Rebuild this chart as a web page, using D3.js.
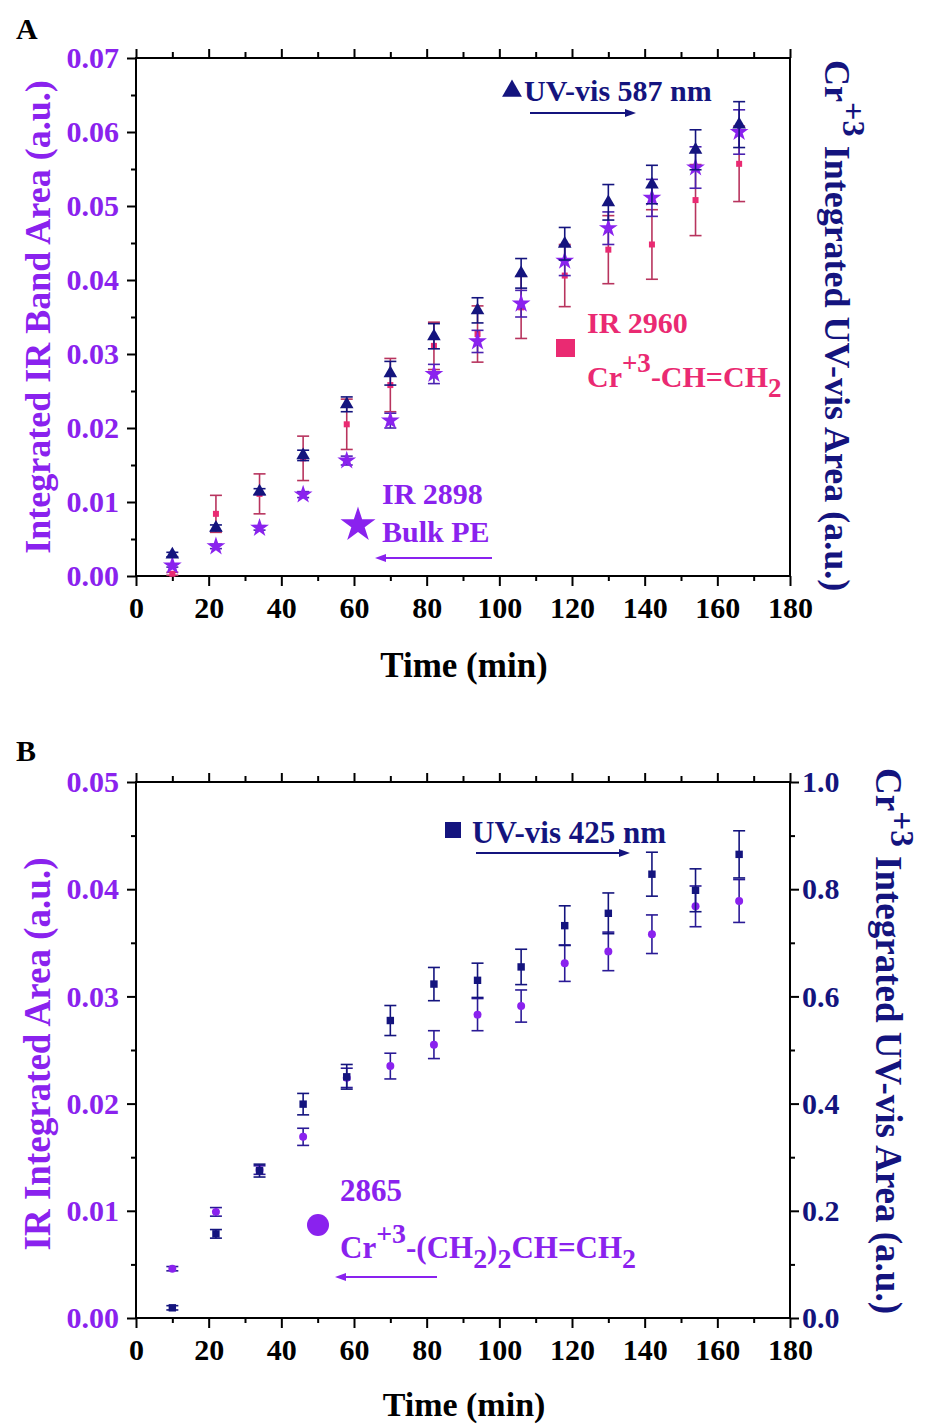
<!DOCTYPE html>
<html>
<head>
<meta charset="utf-8">
<script src="https://cdn.jsdelivr.net/npm/d3@7"></script>
<style>
  html, body { margin: 0; padding: 0; background: #fff; }
  svg { display: block; }
  text { font-family: "Liberation Serif", "Times New Roman", serif; font-weight: bold; }
</style>
</head>
<body>
<svg id="fig" width="925" height="1428"></svg>
<script>
// Sampling times (min)
const time = [10, 22, 34, 46, 58, 70, 82, 94, 106, 118, 130, 142, 154, 166];

// Panel A: IR 2960 (Cr+3-CH=CH2), IR 2898 (bulk PE), UV-vis 587 nm
const ir2960    = [0.0003, 0.0084, 0.0111, 0.0159, 0.0205, 0.0258, 0.0311, 0.0327, 0.0363, 0.0406, 0.0441, 0.0448, 0.0508, 0.0557];
const ir2960Err = [0.0002, 0.0025, 0.0027, 0.0030, 0.0034, 0.0036, 0.0032, 0.0038, 0.0042, 0.0042, 0.0046, 0.0047, 0.0048, 0.0051];
const ir2898    = [0.0014, 0.0040, 0.0065, 0.0110, 0.0156, 0.0210, 0.0273, 0.0317, 0.0368, 0.0426, 0.0470, 0.0511, 0.0552, 0.0600];
const ir2898Err = [0.0002, 0.0003, 0.0003, 0.0004, 0.0006, 0.0010, 0.0013, 0.0015, 0.0018, 0.0020, 0.0022, 0.0025, 0.0028, 0.0030];
const uv587     = [0.0029, 0.0065, 0.0114, 0.0163, 0.0232, 0.0274, 0.0324, 0.0359, 0.0409, 0.0449, 0.0505, 0.0529, 0.0576, 0.0610];
const uv587Err  = [0.0003, 0.0004, 0.0004, 0.0007, 0.0010, 0.0016, 0.0017, 0.0017, 0.0020, 0.0022, 0.0024, 0.0026, 0.0027, 0.0031];

// Panel B: IR 2865 (Cr+3-(CH2)2CH=CH2), UV-vis 425 nm
const ir2865    = [0.0046, 0.0099, 0.0138, 0.0169, 0.0224, 0.0235, 0.0255, 0.0283, 0.0291, 0.0331, 0.0342, 0.0358, 0.0384, 0.0389];
const ir2865Err = [0.0002, 0.0004, 0.0004, 0.0008, 0.0009, 0.0012, 0.0013, 0.0015, 0.0015, 0.0017, 0.0018, 0.0018, 0.0019, 0.0020];
const uv425     = [0.019, 0.157, 0.275, 0.399, 0.450, 0.555, 0.623, 0.630, 0.655, 0.732, 0.755, 0.828, 0.798, 0.865];
const uv425Err  = [0.004, 0.008, 0.012, 0.020, 0.023, 0.028, 0.031, 0.032, 0.033, 0.037, 0.038, 0.041, 0.040, 0.044];

// Tick values
const timeTicks  = [0, 20, 40, 60, 80, 100, 120, 140, 160, 180];
const irTicksA   = [0, 0.01, 0.02, 0.03, 0.04, 0.05, 0.06, 0.07];
const irTicksB   = [0, 0.01, 0.02, 0.03, 0.04, 0.05];
const uvTicksB   = [0, 0.2, 0.4, 0.6, 0.8, 1.0];

const NAVY = "#14147e", PINK = "#ea2a72", PURPLE = "#8a22ee";
const TICK_FONT = 30;

const svg = d3.select("#fig");

function frame(g, x, y, w, h) {
  g.append("rect").attr("x", x).attr("y", y).attr("width", w).attr("height", h)
    .attr("fill", "none").attr("stroke", "#000").attr("stroke-width", 2);
}

function styleAxis(sel) {
  sel.select(".domain").remove();
  sel.selectAll(".tick line").attr("stroke", "#000").attr("stroke-width", 2);
  sel.selectAll("text").attr("font-size", TICK_FONT).attr("font-family", "Liberation Serif, serif").attr("font-weight", "bold");
}

function addAxis(g, axis, tx, ty, color, labels) {
  const a = g.append("g").attr("transform", `translate(${tx},${ty})`).call(axis);
  styleAxis(a);
  if (!labels) a.selectAll("text").remove();
  else a.selectAll("text").attr("fill", color);
  return a;
}

function errorBars(g, xs, ys, errs, x, y, color) {
  const cap = 6;
  const eb = g.append("g").attr("stroke", color).attr("stroke-width", 1.6).attr("fill", "none");
  xs.forEach((t, i) => {
    const cx = x(t), y1 = y(ys[i] + errs[i]), y2 = y(ys[i] - errs[i]);
    eb.append("line").attr("x1", cx).attr("x2", cx).attr("y1", y1).attr("y2", y2);
    eb.append("line").attr("x1", cx - cap).attr("x2", cx + cap).attr("y1", y1).attr("y2", y1);
    eb.append("line").attr("x1", cx - cap).attr("x2", cx + cap).attr("y1", y2).attr("y2", y2);
  });
}

function markers(g, xs, ys, x, y, type, size, color) {
  const sym = d3.symbol().type(type).size(size);
  g.append("g").selectAll("path").data(xs).join("path")
    .attr("d", sym)
    .attr("transform", (t, i) => `translate(${x(t)},${y(ys[i])})`)
    .attr("fill", color);
}

function arrow(g, x1, x2, yy, color) {
  const dir = Math.sign(x2 - x1);
  g.append("line").attr("x1", x1).attr("x2", x2 - dir * 8).attr("y1", yy).attr("y2", yy)
    .attr("stroke", color).attr("stroke-width", 2.2);
  g.append("path")
    .attr("d", `M${x2},${yy} L${x2 - dir * 11},${yy - 4} L${x2 - dir * 11},${yy + 4} Z`)
    .attr("fill", color);
}

// Rich text with superscript / subscript pieces: [text, shift] where shift: 0 normal, 1 sup, -1 sub
function richText(g, pieces, attrs, size, supRaise = 0.5) {
  const t = g.append("text");
  Object.entries(attrs).forEach(([k, v]) => t.attr(k, v));
  t.attr("font-size", size);
  let cur = 0;
  pieces.forEach(([s, shift]) => {
    const target = shift === 1 ? -supRaise * size : shift === -1 ? 0.32 * size : 0;
    const span = t.append("tspan").text(s).attr("dy", target - cur);
    if (shift !== 0) span.attr("font-size", size * 0.9);
    cur = target;
  });
  return t;
}

function timeAxes(g, x, top, bottom) {
  const minor = d3.range(10, 180, 20);
  addAxis(g, d3.axisBottom(x).tickValues(timeTicks).tickSize(10).tickPadding(11).tickFormat(d3.format("d")), 0, bottom, "#000", true);
  addAxis(g, d3.axisBottom(x).tickValues(minor).tickSize(5), 0, bottom, "#000", false);
  addAxis(g, d3.axisBottom(x).tickValues(timeTicks).tickSize(-9), 0, top, "#000", false);
  addAxis(g, d3.axisBottom(x).tickValues(minor).tickSize(-6), 0, top, "#000", false);
}

// ---------------- Panel A ----------------
{
  const L = 136, R = 790, T = 58, B = 576;
  const FS = 30;
  const g = svg.append("g");
  const x = d3.scaleLinear().domain([0, 180]).range([L, R]);
  const y = d3.scaleLinear().domain([0, 0.07]).range([B, T]);
  const yUV = d3.scaleLinear().domain([0, 0.07]).range([B, T]);

  timeAxes(g, x, T, B);
  addAxis(g, d3.axisLeft(y).tickValues(irTicksA).tickSize(9).tickPadding(8).tickFormat(d3.format(".2f")), L, 0, PURPLE, true);
  addAxis(g, d3.axisLeft(y).tickValues(d3.range(0.005, 0.07, 0.01)).tickSize(5), L, 0, PURPLE, false);
  frame(g, L, T, R - L, B - T);

  errorBars(g, time, ir2960, ir2960Err, x, y, "#b8345e");
  markers(g, time, ir2960, x, y, d3.symbolSquare, 36, PINK);
  errorBars(g, time, ir2898, ir2898Err, x, y, "#4a22b0");
  markers(g, time, ir2898, x, y, d3.symbolStar, 110, PURPLE);
  errorBars(g, time, uv587, uv587Err, x, yUV, NAVY);
  markers(g, time, uv587, x, yUV, d3.symbolTriangle, 80, NAVY);

  g.append("text").attr("x", 16).attr("y", 39).attr("font-size", 30).attr("fill", "#000").text("A");

  g.append("text").attr("transform", `translate(50,317) rotate(-90)`).attr("text-anchor", "middle")
    .attr("font-size", 36).attr("fill", PURPLE).text("Integrated IR Band Area (a.u.)");
  richText(g, [["Cr", 0], ["+3", 1], [" Integrated UV-vis Area (a.u.)", 0]],
    { transform: "translate(825,60) rotate(90)", fill: NAVY }, 36);

  g.append("text").attr("x", 464).attr("y", 677).attr("text-anchor", "middle")
    .attr("font-size", 35).attr("fill", "#000").text("Time (min)");

  // Legend annotations
  g.append("path").attr("d", d3.symbol().type(d3.symbolTriangle).size(170)()).attr("transform", "translate(512,91)").attr("fill", NAVY);
  g.append("text").attr("x", 524).attr("y", 101).attr("font-size", FS).attr("fill", NAVY).text("UV-vis 587 nm");
  arrow(g, 530, 636, 113, NAVY);

  g.append("rect").attr("x", 556).attr("y", 339).attr("width", 19).attr("height", 18).attr("fill", PINK);
  g.append("text").attr("x", 587).attr("y", 333).attr("font-size", FS).attr("fill", PINK).text("IR 2960");
  richText(g, [["Cr", 0], ["+3", 1], ["-CH=CH", 0], ["2", -1]], { x: 587, y: 387, fill: PINK }, FS);

  g.append("path").attr("d", d3.symbol().type(d3.symbolStar).size(380)()).attr("transform", "translate(358,525)").attr("fill", PURPLE);
  g.append("text").attr("x", 382).attr("y", 504).attr("font-size", FS).attr("fill", PURPLE).text("IR 2898");
  g.append("text").attr("x", 382).attr("y", 542).attr("font-size", FS).attr("fill", PURPLE).text("Bulk PE");
  arrow(g, 492, 375, 558, PURPLE);
}

// ---------------- Panel B ----------------
{
  const L = 136, R = 790, T = 782, B = 1318;
  const FS = 31;
  const g = svg.append("g");
  const x = d3.scaleLinear().domain([0, 180]).range([L, R]);
  const y = d3.scaleLinear().domain([0, 0.05]).range([B, T]);
  const yUV = d3.scaleLinear().domain([0, 1.0]).range([B, T]);

  timeAxes(g, x, T, B);
  addAxis(g, d3.axisLeft(y).tickValues(irTicksB).tickSize(9).tickPadding(8).tickFormat(d3.format(".2f")), L, 0, PURPLE, true);
  addAxis(g, d3.axisLeft(y).tickValues(d3.range(0.005, 0.05, 0.01)).tickSize(5), L, 0, PURPLE, false);
  addAxis(g, d3.axisRight(yUV).tickValues(uvTicksB).tickSize(9).tickPadding(3).tickFormat(d3.format(".1f")), R, 0, NAVY, true);
  addAxis(g, d3.axisRight(yUV).tickValues(d3.range(0.1, 1.0, 0.2)).tickSize(5), R, 0, NAVY, false);
  frame(g, L, T, R - L, B - T);

  errorBars(g, time, ir2865, ir2865Err, x, y, "#2a1a96");
  markers(g, time, ir2865, x, y, d3.symbolCircle, 50, PURPLE);
  errorBars(g, time, uv425, uv425Err, x, yUV, NAVY);
  markers(g, time, uv425, x, yUV, d3.symbolSquare, 55, NAVY);

  g.append("text").attr("x", 16).attr("y", 761).attr("font-size", 30).attr("fill", "#000").text("B");

  g.append("text").attr("transform", `translate(50,1054) rotate(-90)`).attr("text-anchor", "middle")
    .attr("font-size", 37).attr("fill", PURPLE).text("IR Integrated Area (a.u.)");
  richText(g, [["Cr", 0], ["+3", 1], [" Integrated UV-vis Area (a.u.)", 0]],
    { transform: "translate(876,768) rotate(90)", fill: NAVY }, 37, 0.4);

  g.append("text").attr("x", 464).attr("y", 1416).attr("text-anchor", "middle")
    .attr("font-size", 34).attr("fill", "#000").text("Time (min)");

  g.append("rect").attr("x", 445).attr("y", 822).attr("width", 16).attr("height", 16).attr("fill", NAVY);
  g.append("text").attr("x", 472).attr("y", 843).attr("font-size", FS).attr("fill", NAVY).text("UV-vis 425 nm");
  arrow(g, 476, 630, 853, NAVY);

  g.append("circle").attr("cx", 318).attr("cy", 1225).attr("r", 11).attr("fill", PURPLE);
  g.append("text").attr("x", 340).attr("y", 1201).attr("font-size", FS).attr("fill", PURPLE).text("2865");
  richText(g, [["Cr", 0], ["+3", 1], ["-(CH", 0], ["2", -1], [")", 0], ["2", -1], ["CH=CH", 0], ["2", -1]],
    { x: 340, y: 1258, fill: PURPLE }, FS);
  arrow(g, 437, 335, 1277, PURPLE);
}
</script>
</body>
</html>
